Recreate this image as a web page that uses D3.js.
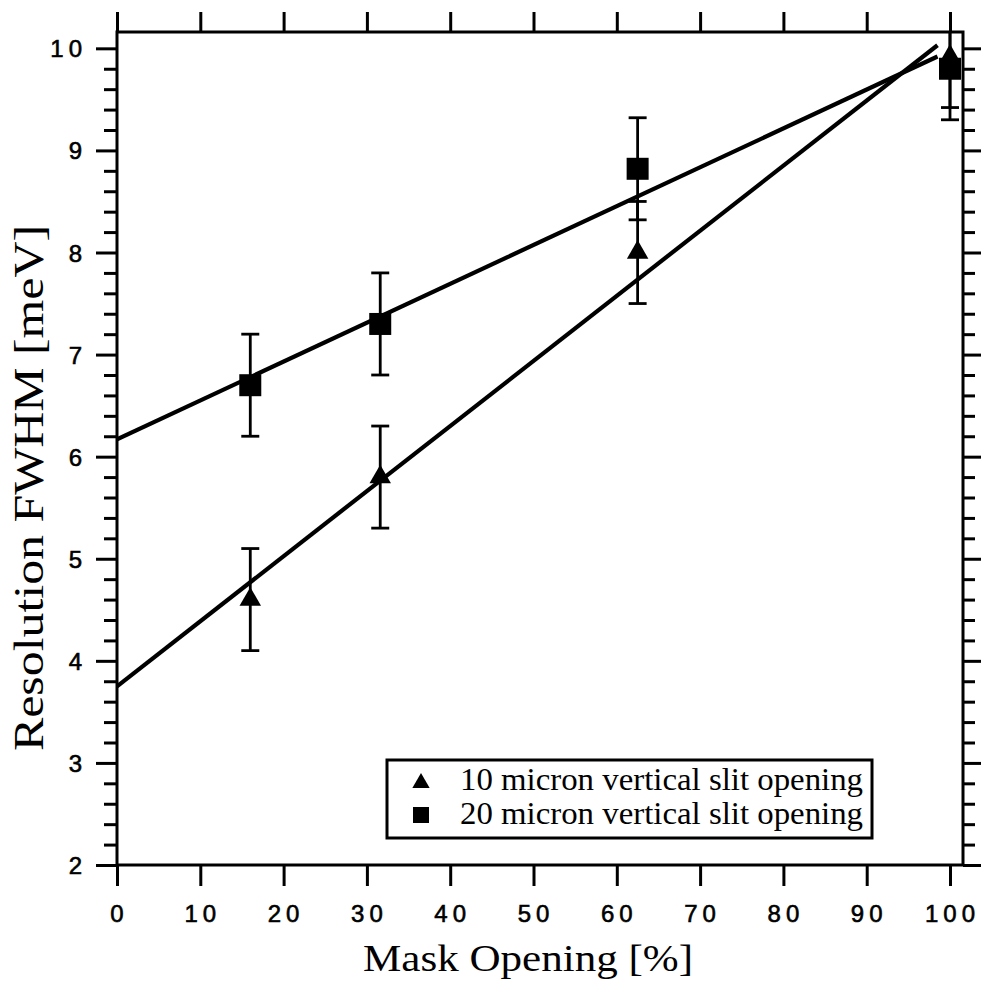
<!DOCTYPE html>
<html>
<head>
<meta charset="utf-8">
<script src="https://cdn.jsdelivr.net/npm/d3@7/dist/d3.min.js"></script>
<style>
  html, body { margin: 0; padding: 0; background: #fff; }
  svg { display: block; }
</style>
</head>
<body>
<svg id="chart" width="981" height="989"></svg>
<script>
// Mask opening (%) for each measurement
const maskOpening = [16, 31.6, 62.5, 100];
// Resolution FWHM (meV), 10 micron vertical slit
const slit10 = [4.6, 5.8, 8.0, 9.92];
const slit10Err = [0.5, 0.5, 0.5, 0.5];
// Resolution FWHM (meV), 20 micron vertical slit
const slit20 = [6.7, 7.3, 8.82, 9.8];
const slit20Err = [0.5, 0.5, 0.5, 0.5];
// Linear fit end points [mask %, FWHM]
const fit10 = [[0, 3.75], [98.5, 10.03]];
const fit20 = [[0, 6.17], [98.5, 9.92]];
// Axis ticks
const xTicks = [0, 10, 20, 30, 40, 50, 60, 70, 80, 90, 100];
const yTicks = [2, 3, 4, 5, 6, 7, 8, 9, 10];
const yMinorTicks = [2.2,2.4,2.6,2.8,3.2,3.4,3.6,3.8,4.2,4.4,4.6,4.8,5.2,5.4,5.6,5.8,
                     6.2,6.4,6.6,6.8,7.2,7.4,7.6,7.8,8.2,8.4,8.6,8.8,9.2,9.4,9.6,9.8];
const legendLabels = ["10 micron vertical slit opening", "20 micron vertical slit opening"];

const svg = d3.select("#chart");
const pL = 117, pR = 963, pT = 32, pB = 865;

const x = d3.scaleLinear().domain([0, 101.56]).range([pL, pR]);
const y = d3.scaleLinear().domain([2, 10.16]).range([pB, pT]);

const sans = "'Liberation Sans', Arial, Helvetica, sans-serif";
const serif = "'Liberation Serif', 'Times New Roman', Times, serif";

svg.append("defs").append("clipPath").attr("id", "plotClip")
  .append("rect").attr("x", pL).attr("y", pT)
  .attr("width", pR - pL).attr("height", pB - pT);

// ---- axes ----
function styleAxis(g, w) {
  g.select(".domain").remove();
  g.selectAll(".tick line").attr("stroke", "#000").attr("stroke-width", w);
}

const gBottom = svg.append("g").attr("transform", `translate(0,${pB})`)
  .call(d3.axisBottom(x).tickValues(xTicks).tickSize(21).tickFormat(""));
styleAxis(gBottom, 3);
const gTop = svg.append("g").attr("transform", `translate(0,${pT})`)
  .call(d3.axisTop(x).tickValues(xTicks).tickSize(20).tickFormat(""));
styleAxis(gTop, 3);
const gLeft = svg.append("g").attr("transform", `translate(${pL},0)`)
  .call(d3.axisLeft(y).tickValues(yTicks).tickSize(21).tickFormat(""));
styleAxis(gLeft, 3);
const gLeftMinor = svg.append("g").attr("transform", `translate(${pL},0)`)
  .call(d3.axisLeft(y).tickValues(yMinorTicks).tickSize(13).tickFormat(""));
styleAxis(gLeftMinor, 3);
const gRight = svg.append("g").attr("transform", `translate(${pR},0)`)
  .call(d3.axisRight(y).tickValues(yTicks).tickSize(18).tickFormat(""));
styleAxis(gRight, 3);
const gRightMinor = svg.append("g").attr("transform", `translate(${pR},0)`)
  .call(d3.axisRight(y).tickValues(yMinorTicks).tickSize(12).tickFormat(""));
styleAxis(gRightMinor, 3);

// frame
svg.append("rect").attr("x", pL).attr("y", pT)
  .attr("width", pR - pL).attr("height", pB - pT)
  .attr("fill", "none").attr("stroke", "#000").attr("stroke-width", 3);

// tick labels
const ls = 5;
svg.append("g").selectAll("text").data(xTicks).join("text")
  .attr("x", d => x(d) + ls / 2).attr("y", 922)
  .attr("text-anchor", "middle")
  .attr("font-family", sans).attr("font-size", 24)
  .attr("letter-spacing", ls)
  .attr("stroke", "#000").attr("stroke-width", 0.6)
  .text(d => d);

svg.append("g").selectAll("text").data(yTicks).join("text")
  .attr("x", 82 + ls).attr("y", d => y(d) + 9)
  .attr("text-anchor", "end")
  .attr("font-family", sans).attr("font-size", 24)
  .attr("letter-spacing", ls)
  .attr("stroke", "#000").attr("stroke-width", 0.6)
  .text(d => d);

// axis titles
svg.append("text")
  .attr("x", 363).attr("y", 971)
  .attr("font-family", serif).attr("font-size", 38)
  .attr("textLength", 330).attr("lengthAdjust", "spacingAndGlyphs")
  .text("Mask Opening [%]");

svg.append("text")
  .attr("transform", "translate(43,751) rotate(-90)")
  .attr("x", 0).attr("y", 0)
  .attr("font-family", serif).attr("font-size", 42)
  .attr("textLength", 526).attr("lengthAdjust", "spacingAndGlyphs")
  .text("Resolution FWHM [meV]");

// ---- plot content ----
const plot = svg.append("g").attr("clip-path", "url(#plotClip)");
const line = d3.line().x(d => x(d[0])).y(d => y(d[1]));

plot.append("path").datum(fit20).attr("d", line)
  .attr("fill", "none").attr("stroke", "#000").attr("stroke-width", 4.2);
plot.append("path").datum(fit10).attr("d", line)
  .attr("fill", "none").attr("stroke", "#000").attr("stroke-width", 4.2);

function errorBars(vals, errs) {
  const g = plot.append("g").attr("stroke", "#000").attr("stroke-width", 2.8);
  maskOpening.forEach((m, i) => {
    const cx = x(m), y0 = y(vals[i] - errs[i]), y1 = y(vals[i] + errs[i]);
    g.append("line").attr("x1", cx).attr("x2", cx).attr("y1", y0).attr("y2", y1);
    g.append("line").attr("x1", cx - 9).attr("x2", cx + 9).attr("y1", y0).attr("y2", y0);
    g.append("line").attr("x1", cx - 9).attr("x2", cx + 9).attr("y1", y1).attr("y2", y1);
  });
}
errorBars(slit20, slit20Err);
errorBars(slit10, slit10Err);

const tri = d3.symbol().type(d3.symbolTriangle).size(200);
const sq = d3.symbol().type(d3.symbolSquare).size(484);

plot.append("g").selectAll("path").data(maskOpening).join("path")
  .attr("transform", (d, i) => `translate(${x(d)},${y(slit20[i])})`)
  .attr("d", sq).attr("fill", "#000");
plot.append("g").selectAll("path").data(maskOpening).join("path")
  .attr("transform", (d, i) => `translate(${x(d)},${y(slit10[i])})`)
  .attr("d", tri).attr("fill", "#000");

// ---- legend ----
const lg = svg.append("g");
lg.append("rect").attr("x", 387).attr("y", 760).attr("width", 485).attr("height", 78)
  .attr("fill", "#fff").attr("stroke", "#000").attr("stroke-width", 3);
lg.append("path").attr("transform", "translate(421,783)")
  .attr("d", d3.symbol().type(d3.symbolTriangle).size(130)).attr("fill", "#000");
lg.append("path").attr("transform", "translate(421,815)")
  .attr("d", d3.symbol().type(d3.symbolSquare).size(256)).attr("fill", "#000");
lg.selectAll("text.lab").data(legendLabels).join("text").attr("class", "lab")
  .attr("x", 460).attr("y", (d, i) => 790 + i * 34)
  .attr("font-family", serif).attr("font-size", 32)
  .attr("textLength", 403).attr("lengthAdjust", "spacingAndGlyphs")
  .text(d => d);
</script>
</body>
</html>
